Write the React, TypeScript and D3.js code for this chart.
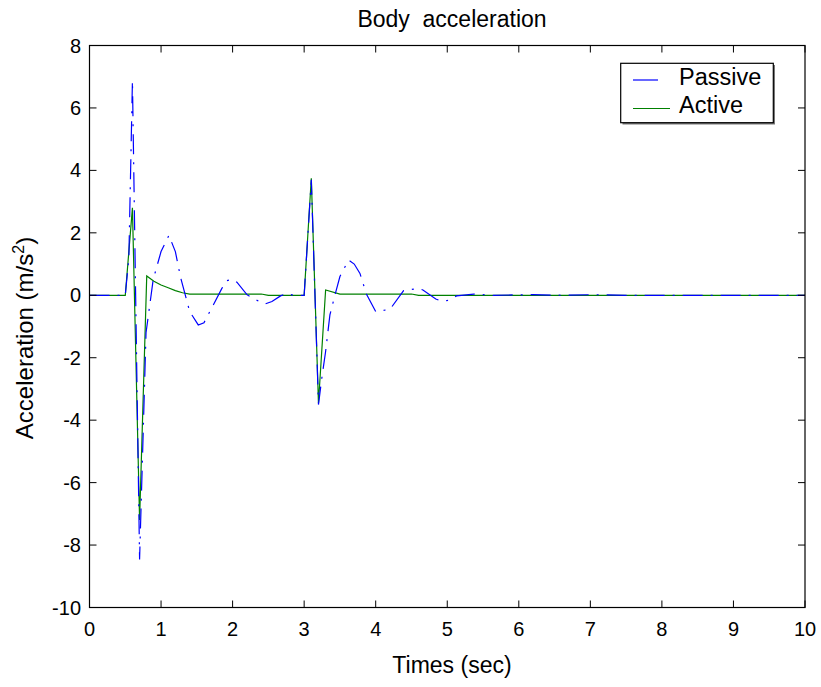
import React from "react";
import * as d3 from "d3";

const activeT = [0, 0.5, 0.6, 0.7, 0.8, 0.9, 1.0, 1.1, 1.2, 1.3, 1.4, 2.4, 2.5, 3.0, 3.1, 3.2, 3.3, 3.5, 4.5, 4.6, 10];
const activeV = [0, 0, 2.8, -7.2, 0.62, 0.45, 0.33, 0.24, 0.15, 0.08, 0.04, 0.04, 0, 0, 3.75, -3.45, 0.17, 0.04, 0.04, 0, 0];

const passiveT = [0, 0.5, 0.55, 0.6, 0.7, 0.79, 0.89, 1.0, 1.11, 1.2, 1.27, 1.4, 1.52, 1.6, 1.73, 1.85, 1.92, 2.0, 2.06, 2.2, 2.3, 2.45, 2.55, 2.67, 2.75, 2.85, 3.0, 3.1, 3.2, 3.25, 3.3, 3.36, 3.43, 3.5, 3.62, 3.7, 3.78, 3.87, 4.0, 4.2, 4.39, 4.6, 4.66, 4.84, 4.93, 5.04, 5.13, 5.37, 5.64, 6.2, 6.6, 7.03, 7.5, 10];
const passiveV = [0, 0, 1.2, 6.87, -8.46, -1.2, 0.5, 1.4, 1.92, 1.4, 0.6, -0.52, -0.95, -0.88, -0.31, 0.22, 0.47, 0.51, 0.42, 0.02, -0.12, -0.28, -0.2, -0.02, 0.06, 0, 0, 3.7, -3.5, -2.6, -1.8, -0.63, 0, 0.6, 1.13, 1.0, 0.7, 0.04, -0.52, -0.45, 0.15, 0.22, 0.17, -0.12, -0.2, -0.15, -0.02, 0.04, 0, 0.02, 0, 0.02, 0, 0];

const xTicks = [0, 1, 2, 3, 4, 5, 6, 7, 8, 9, 10];
const yTicks = [-10, -8, -6, -4, -2, 0, 2, 4, 6, 8];
const seriesNames = ["Passive", "Active"];

const W = 821;
const H = 687;
const FONT = "'Liberation Sans', Arial, Helvetica, sans-serif";

export default function App() {
  const x = d3.scaleLinear().domain([0, 10]).range([89.5, 805]);
  const y = d3.scaleLinear().domain([-10, 8]).range([607.5, 45.5]);
  const line = d3
    .line<[number, number]>()
    .x((d) => x(d[0]))
    .y((d) => y(d[1]));
  const passive: [number, number][] = passiveT.map((t, i) => [t, passiveV[i]]);
  const active: [number, number][] = activeT.map((t, i) => [t, activeV[i]]);
  const [x0, x1] = x.range();
  const [yb, yt] = y.range();
  const tl = 7;
  return (
    <svg
      width={W}
      height={H}
      style={{ position: "absolute", left: 0, top: 0, background: "#fff" }}
      fontFamily={FONT}
    >
      <rect x={0} y={0} width={W} height={H} fill="#fff" />
      {/* data */}
      <path d={line(active) || ""} fill="none" stroke="#008000" strokeWidth={1.2} />
      <path
        d={line(passive) || ""}
        fill="none"
        stroke="#0000ff"
        strokeWidth={1.2}
        strokeDasharray="20,8,2,8"
      />
      {/* frame */}
      <rect x={x0} y={yt} width={x1 - x0} height={yb - yt} fill="none" stroke="#000" strokeWidth={1.2} />
      {xTicks.map((t) => (
        <g key={"x" + t}>
          <line x1={x(t)} x2={x(t)} y1={yb} y2={yb - tl} stroke="#000" />
          <line x1={x(t)} x2={x(t)} y1={yt} y2={yt + tl} stroke="#000" />
          <text x={x(t)} y={636} fontSize={20} textAnchor="middle" fill="#000">
            {t}
          </text>
        </g>
      ))}
      {yTicks.map((t) => (
        <g key={"y" + t}>
          <line x1={x0} x2={x0 + tl} y1={y(t)} y2={y(t)} stroke="#000" />
          <line x1={x1} x2={x1 - tl} y1={y(t)} y2={y(t)} stroke="#000" />
          <text x={81} y={y(t) + 7} fontSize={20} textAnchor="end" fill="#000">
            {t}
          </text>
        </g>
      ))}
      {/* title & labels */}
      <text x={452} y={27} fontSize={23} textAnchor="middle" fill="#000" style={{ whiteSpace: "pre" }}>
        {"Body  acceleration"}
      </text>
      <text x={452} y={673} fontSize={23} textAnchor="middle" fill="#000">
        Times (sec)
      </text>
      <text
        transform="translate(33,338) rotate(-90)"
        fontSize={24}
        textAnchor="middle"
        fill="#000"
      >
        Acceleration (m/s
        <tspan fontSize={16} dy={-9}>2</tspan>
        <tspan dy={9}>)</tspan>
      </text>
      {/* legend */}
      <rect x={622.5} y={65} width={152.5} height={59.5} fill="#777" />
      <rect x={620.7} y={63.3} width={152.6} height={59.4} fill="#fff" stroke="#000" strokeWidth={1.2} />
      <line x1={633} x2={658} y1={80} y2={80} stroke="#0000ff" strokeWidth={1.2} />
      <line x1={633} x2={670} y1={108.5} y2={108.5} stroke="#008000" strokeWidth={1.2} />
      <text x={679} y={85} fontSize={23.5} fill="#000">
        {seriesNames[0]}
      </text>
      <text x={679} y={112.5} fontSize={23.5} fill="#000">
        {seriesNames[1]}
      </text>
    </svg>
  );
}
